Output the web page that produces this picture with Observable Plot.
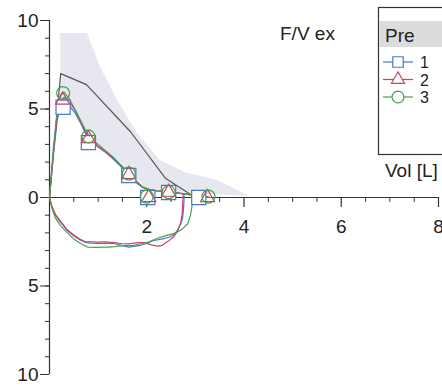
<!DOCTYPE html>
<html><head><meta charset="utf-8">
<script src="https://cdn.jsdelivr.net/npm/d3@7"></script>
<script src="https://cdn.jsdelivr.net/npm/@observablehq/plot@0.6"></script>
<style>html,body{margin:0;padding:0;background:#fff;overflow:hidden;width:442px;height:389px}</style>
</head><body><div id="chart"></div>
<script>
// predicted curve and normal range (shade)
const predVol = [0, 0.23, 0.76, 1.67, 2.39, 3.0];
const predFlow = [0, 7.0, 6.38, 3.7, 1.07, 0];
const shUpVol = [0.23, 0.78, 1.05, 1.40, 1.81, 2.28, 2.8, 3.46, 4.07];
const shUpFlow = [9.27, 9.27, 7.34, 5.48, 3.62, 2.09, 1.4, 0.96, 0.11];
const shLoVol = [0.23, 0.3, 0.45, 0.7, 1.0, 1.5, 2.0, 2.8, 4.07];
const shLoFlow = [5.6, 5.5, 5.1, 4.0, 2.9, 1.9, 0.5, 0.25, 0.05];
// expiratory curves
const exVol = [0, 0.08, 0.16, 0.24, 0.3, 0.4, 0.52, 0.64, 0.76, 0.88, 1.0, 1.15, 1.3, 1.45, 1.63, 1.78, 1.92, 2.05, 2.25, 2.5, 2.75, 3.0, 3.2, 3.3];
const ex1Flow = [0, 2.4, 4.4, 5.2, 5.35, 5.2, 4.8, 4.2, 3.5, 3.1, 2.85, 2.55, 2.2, 1.8, 1.3, 0.85, 0.55, 0.42, 0.36, 0.3, 0.2, 0.12, 0.05, 0];
const ex2Flow = [0, 2.6, 4.7, 5.5, 5.65, 5.45, 4.95, 4.3, 3.6, 3.2, 2.9, 2.6, 2.25, 1.85, 1.35, 0.9, 0.58, 0.45, 0.38, 0.32, 0.22, 0.14, 0.06, 0];
const ex3Flow = [0, 2.8, 5.0, 5.8, 5.95, 5.6, 5.0, 4.35, 3.7, 3.3, 3.0, 2.65, 2.3, 1.9, 1.4, 0.95, 0.6, 0.45, 0.36, 0.3, 0.2, 0.12, 0.05, 0];
// inspiratory curves
const in1Vol = [0, 0.05, 0.12, 0.23, 0.36, 0.49, 0.62, 0.74, 0.86, 0.98, 1.15, 1.32, 1.48, 1.63, 1.76, 1.87, 2.0, 2.14, 2.3, 2.45, 2.56, 2.63, 2.7, 2.74, 2.76, 2.77];
const in1Flow = [0, -0.55, -1.0, -1.41, -1.85, -2.15, -2.38, -2.54, -2.58, -2.6, -2.58, -2.6, -2.7, -2.8, -2.75, -2.7, -2.6, -2.43, -2.35, -2.26, -2.1, -1.86, -1.5, -1.13, -0.5, 0.1];
const in2Vol = [0, 0.05, 0.12, 0.23, 0.36, 0.49, 0.62, 0.74, 0.86, 0.98, 1.15, 1.32, 1.48, 1.63, 1.8, 1.95, 2.1, 2.22, 2.32, 2.45, 2.56, 2.65, 2.7, 2.73, 2.74, 2.75];
const in2Flow = [0, -0.5, -0.95, -1.35, -1.8, -2.1, -2.35, -2.5, -2.5, -2.52, -2.5, -2.55, -2.6, -2.62, -2.55, -2.55, -2.68, -2.75, -2.7, -2.45, -2.2, -1.8, -1.4, -0.9, -0.3, 0.15];
const in3Vol = [0, 0.05, 0.12, 0.23, 0.37, 0.5, 0.64, 0.78, 0.95, 1.1, 1.19, 1.35, 1.5, 1.73, 1.9, 2.05, 2.22, 2.4, 2.6, 2.72, 2.84, 2.9, 2.93, 2.94, 2.94];
const in3Flow = [0, -0.6, -1.15, -1.6, -2.0, -2.35, -2.6, -2.8, -2.82, -2.8, -2.8, -2.78, -2.72, -2.7, -2.6, -2.5, -2.3, -2.15, -2.0, -1.8, -1.5, -1.0, -0.5, -0.1, 0.2];
// markers
const mk1Vol = [0.28, 0.8, 1.63, 2.02, 2.45, 3.07], mk1Flow = [5.1, 3.1, 1.24, 0, 0.28, 0];
const mk2Vol = [0.27, 0.8, 1.63, 2.04, 2.45, 3.25], mk2Flow = [5.5, 3.33, 1.3, 0, 0.3, 0];
const mk3Vol = [0.28, 0.8, 1.63, 2.0, 2.45, 3.27], mk3Flow = [5.9, 3.45, 1.35, 0.05, 0.3, 0.05];
// ticks and labels
const xMajor = [2, 4, 6, 8];
const xMinor = d3.range(0.5, 8.01, 0.5).filter(v => v % 2 !== 0);
const yMajor = [-10, -5, 0, 5, 10];
const yMinor = d3.range(-10, 10.01, 1);
const seriesNames = ["1", "2", "3"];
const colors = ["#4a78c2", "#cf3f68", "#48a14e"];
const symbols = ["square", "triangle", "circle"];

const zip = (xs, ys) => xs.map((x, i) => ({x, y: ys[i]}));
const shade = shUpVol.map((v, i) => ({ux: v, uy: shUpFlow[i], lx: shLoVol[i], ly: shLoFlow[i]}));
const exFlows = [ex1Flow, ex2Flow, ex3Flow];
const ins = [[in1Vol, in1Flow], [in2Vol, in2Flow], [in3Vol, in3Flow]];
const mks = [[mk1Vol, mk1Flow], [mk2Vol, mk2Flow], [mk3Vol, mk3Flow]];
const font = "Liberation Sans, Arial, sans-serif";

const marks = [
  Plot.area(shade, {x1: "lx", y1: "ly", x2: "ux", y2: "uy", fill: "#e7e7ef"}),
  Plot.line(zip(predVol, predFlow), {x: "x", y: "y", stroke: "#555", strokeWidth: 1.2}),
  Plot.ruleX([0], {y1: -10, y2: 10, stroke: "#333", strokeWidth: 1.2}),
  Plot.ruleY([0], {x1: 0, x2: 8, stroke: "#333", strokeWidth: 1.2}),
  Plot.ruleX(xMajor, {x: d => d, y1: 0, y2: 0, insetBottom: -10, stroke: "#333", strokeWidth: 1.2}),
  Plot.ruleX(xMinor, {x: d => d, y1: 0, y2: 0, insetBottom: -5, stroke: "#333", strokeWidth: 1}),
  Plot.text(xMajor, {x: d => d, y: 0, dy: 29, text: d => String(d), fontSize: 19, fill: "#222"}),
  Plot.axisY({ticks: yMinor, tickSize: 4, tickFormat: () => "", label: null, stroke: "#333"}),
  Plot.axisY({ticks: yMajor, tickSize: 9, tickPadding: 2, tickFormat: d => String(Math.abs(d)), label: null, fontSize: 19, stroke: "#333", fill: "#222"})
];
[0, 1, 2].forEach(k => {
  marks.push(Plot.line(zip(exVol, exFlows[k]), {x: "x", y: "y", stroke: colors[k], strokeWidth: 1.2}));
  marks.push(Plot.line(zip(ins[k][0], ins[k][1]), {x: "x", y: "y", stroke: colors[k], strokeWidth: 1.2}));
});
[0, 1, 2].forEach(k => {
  marks.push(Plot.dot(zip(mks[k][0], mks[k][1]), {x: "x", y: "y", symbol: symbols[k], r: [8, 5.2, 6.5][k], stroke: colors[k], fill: k === 0 ? "white" : "none", strokeWidth: 1.2}));
});

const svg = Plot.plot({
  width: 442, height: 389,
  marginLeft: 49, marginRight: 4, marginTop: 20, marginBottom: 15,
  x: {domain: [0, 8], axis: null},
  y: {domain: [-10, 10], axis: null},
  style: {fontFamily: font, background: "white", overflow: "visible"},
  marks
});
document.getElementById("chart").appendChild(svg);

// title, axis label and legend drawn on the same svg
const s = d3.select(svg);
const addText = (g, x, y, size, str) => g.append("text").attr("x", x).attr("y", y).attr("font-size", size)
  .attr("font-family", font).attr("fill", "#222").attr("text-anchor", "start").text(str);
addText(s, 280, 40, 19, "F/V ex");
addText(s, 385, 177, 19, "Vol [L]");
const lg = s.append("g");
lg.append("rect").attr("x", 378.5).attr("y", 7.5).attr("width", 90).attr("height", 147).attr("fill", "white").attr("stroke", "#333").attr("stroke-width", 1.2);
lg.append("rect").attr("x", 379).attr("y", 21).attr("width", 90).attr("height", 26).attr("fill", "#dcdcdc");
addText(lg, 385, 42, 19, "Pre");
seriesNames.forEach((name, k) => {
  const yy = 62 + k * 17.5;
  lg.append("line").attr("x1", 383).attr("x2", 413).attr("y1", yy).attr("y2", yy).attr("stroke", colors[k]).attr("stroke-width", 1.2);
  const sym = d3.symbol().type([d3.symbolSquare, d3.symbolTriangle, d3.symbolCircle][k]).size([110, 75, 110][k]);
  lg.append("path").attr("d", sym()).attr("transform", `translate(398,${yy})`).attr("fill", "white").attr("stroke", colors[k]).attr("stroke-width", 1.2);
  addText(lg, 420, yy + 6, 16, name);
});
</script></body></html>
